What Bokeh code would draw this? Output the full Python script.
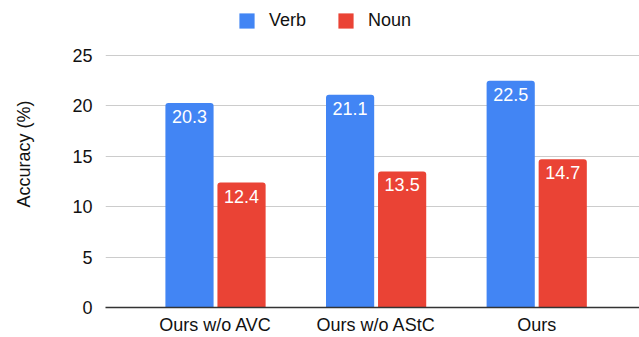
from bokeh.plotting import figure
from bokeh.models import (ColumnDataSource, Range1d, FixedTicker, Legend,
                          LegendItem, LabelSet)
from bokeh.core.properties import value
from bokeh.embed import file_html
from bokeh.resources import INLINE

# Accuracy per model variant
categories = ["Ours w/o AVC", "Ours w/o AStC", "Ours"]
verb = [20.3, 21.1, 22.5]
noun = [12.4, 13.5, 14.7]
y_ticks = [0, 5, 10, 15, 20, 25]

BLUE = "#4285F4"
RED = "#EA4335"
FONT = "Liberation Sans"
OFFSET = 0.162
BAR_W = 0.30

idx = list(range(len(categories)))
verb_src = ColumnDataSource(dict(
    x=[i - OFFSET for i in idx], top=verb, label=[f"{v:.1f}" for v in verb]))
noun_src = ColumnDataSource(dict(
    x=[i + OFFSET for i in idx], top=noun, label=[f"{v:.1f}" for v in noun]))

# the frame reaches the top edge so the legend sits inside it
p = figure(width=639, height=337, output_backend="svg", toolbar_location=None,
           x_range=Range1d(-0.685, 2.64), y_range=Range1d(0, 30.46),
           min_border_left=105, min_border_right=0, min_border_top=0,
           min_border_bottom=28)
p.outline_line_color = None
p.background_fill_color = "white"
p.border_fill_color = "white"

rv = p.vbar(x="x", top="top", width=BAR_W, source=verb_src, fill_color=BLUE,
            line_color=None, border_radius=(3, 3, 0, 0))
rn = p.vbar(x="x", top="top", width=BAR_W, source=noun_src, fill_color=RED,
            line_color=None, border_radius=(3, 3, 0, 0))

for src in (verb_src, noun_src):
    p.add_layout(LabelSet(x="x", y="top", text="label", source=src,
                          text_align="center", text_baseline="top",
                          y_offset=-7, text_color="white",
                          text_font=value(FONT), text_font_size="18px"))

# axes
p.xaxis.ticker = FixedTicker(ticks=idx)
p.xaxis.major_label_overrides = {i: c for i, c in zip(idx, categories)}
p.xaxis.major_tick_line_color = None
p.xaxis.minor_tick_line_color = None
p.xaxis.axis_line_color = "#333333"
p.xaxis.axis_line_width = 1.5
p.xaxis.major_label_standoff = 1
p.xaxis.major_label_text_font = FONT
p.xaxis.major_label_text_font_size = "18px"
p.xaxis.major_label_text_color = "#111111"

p.yaxis.ticker = FixedTicker(ticks=y_ticks)
p.yaxis.axis_line_color = None
p.yaxis.major_tick_line_color = None
p.yaxis.minor_tick_line_color = None
p.yaxis.major_label_standoff = 7
p.yaxis.major_label_text_font = FONT
p.yaxis.major_label_text_font_size = "18px"
p.yaxis.major_label_text_color = "#111111"
p.yaxis.axis_label = "Accuracy (%)"
p.yaxis.axis_label_text_font = FONT
p.yaxis.axis_label_text_font_size = "18px"
p.yaxis.axis_label_text_font_style = "normal"
p.yaxis.axis_label_text_color = "#111111"
p.yaxis.axis_label_standoff = 35

p.xgrid.grid_line_color = None
p.ygrid.grid_line_color = "#cccccc"
p.ygrid.grid_line_width = 1

legend = Legend(items=[LegendItem(label="Verb", renderers=[rv]),
                       LegendItem(label="Noun", renderers=[rn])],
                orientation="horizontal", location=(132, 276),
                glyph_width=19, glyph_height=19, label_height=19,
                label_standoff=13, spacing=30, padding=0, margin=0,
                border_line_color=None, background_fill_alpha=0,
                label_text_font=FONT, label_text_font_size="18px",
                label_text_color="#111111")
p.add_layout(legend, "center")

open("out.html", "w").write(file_html(p, INLINE))
